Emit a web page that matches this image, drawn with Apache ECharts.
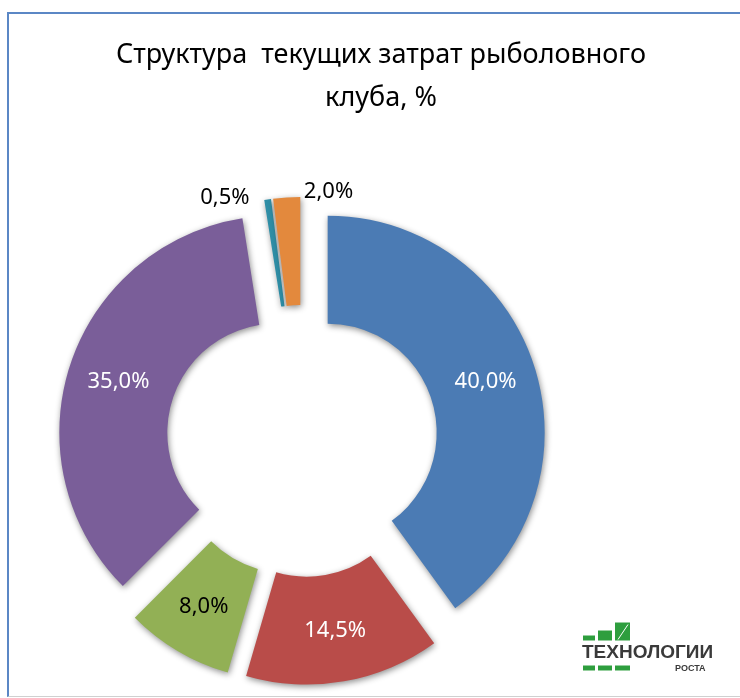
<!DOCTYPE html>
<html>
<head>
<meta charset="utf-8">
<script src="https://cdn.jsdelivr.net/npm/echarts@6/dist/echarts.min.js"></script>
<style>
  html, body { margin: 0; padding: 0; background: #fff; }
  #frame {
    position: absolute; left: 7px; top: 12px; width: 740px; height: 682px;
    border-left: 2px solid #5b87c5; border-top: 2px solid #5b87c5;
    border-bottom: 1px solid #d0d0d0;
  }
  #chart { position: absolute; left: 0; top: 0; width: 740px; height: 698px; }
</style>
</head>
<body>
<div id="frame"></div>
<div id="chart"></div>
<script>
// данные диаграммы
const categories = ['Статья 1', 'Статья 2', 'Статья 3', 'Статья 4', 'Статья 5', 'Статья 6'];
const shares = [40.0, 14.5, 8.0, 35.0, 0.5, 2.0];
const colors = ['#4b7bb4', '#b94c49', '#92b055', '#7a5e99', '#2f8ea6', '#e3893d'];
const labelColors = ['#fff', '#fff', '#000', '#fff', '#000', '#000'];
const outsideLabels = [false, false, false, false, true, true];

const chart = echarts.init(document.getElementById('chart'), null, { renderer: 'canvas' });

const fmt = v => v.toFixed(1).replace('.', ',') + '%';

const pieData = shares.map((v, i) => ({
  name: categories[i],
  value: v,
  selected: true,
  itemStyle: { color: colors[i] },
  label: {
    position: outsideLabels[i] ? 'outside' : 'inside',
    color: labelColors[i]
  },
  labelLine: { show: false, length: 8, length2: 0 }
}));

const green = '#2e9e3e';
const option = {
  animation: false,
  title: {
    text: 'Структура  текущих затрат рыболовного\nклуба, %',
    left: 376,
    top: 29,
    textAlign: 'center',
    textStyle: {
      fontFamily: 'Noto Sans',
      fontSize: 27,
      fontWeight: 'normal',
      color: '#000',
      lineHeight: 43
    }
  },
  series: [{
    type: 'pie',
    center: [302, 441],
    radius: [109, 217],
    startAngle: 90,
    clockwise: true,
    selectedMode: 'multiple',
    selectedOffset: 27,
    avoidLabelOverlap: false,
    emphasis: { disabled: true },
    itemStyle: {
      shadowBlur: 6,
      shadowColor: 'rgba(0,0,0,0.45)',
      shadowOffsetX: 1,
      shadowOffsetY: 2
    },
    label: {
      show: true,
      fontFamily: 'Noto Sans',
      fontSize: 22,
      formatter: p => fmt(p.value)
    },
    labelLayout: function (p) {
      if (p.dataIndex === 4) return { dx: -12, dy: 6 };
      if (p.dataIndex === 5) return { dx: 72, dy: 2 };
      return {};
    },
    data: pieData
  }],
  // логотип
  graphic: [{
    type: 'group',
    left: 582,
    top: 622,
    children: [
      { type: 'rect', shape: { x: 33, y: 0, width: 15, height: 18 }, style: { fill: green } },
      { type: 'line', shape: { x1: 36, y1: 17, x2: 46, y2: 2 }, style: { stroke: '#fff', lineWidth: 1 } },
      { type: 'rect', shape: { x: 16, y: 8, width: 14, height: 10 }, style: { fill: green } },
      { type: 'rect', shape: { x: 1, y: 13, width: 12, height: 5 }, style: { fill: green } },
      { type: 'rect', shape: { x: 1, y: 43, width: 12, height: 5 }, style: { fill: green } },
      { type: 'rect', shape: { x: 16, y: 43, width: 14, height: 5 }, style: { fill: green } },
      { type: 'rect', shape: { x: 33, y: 43, width: 15, height: 5 }, style: { fill: green } },
      { type: 'text', x: 0, y: 21, style: { text: 'ТЕХНОЛОГИИ', font: 'bold 19px "Liberation Sans"', fill: '#3a3a3a' } },
      { type: 'text', x: 93, y: 42, style: { text: 'РОСТА', font: 'bold 9px "Liberation Sans"', fill: '#3a3a3a' } }
    ]
  }]
};

chart.setOption(option);
</script>
</body>
</html>
